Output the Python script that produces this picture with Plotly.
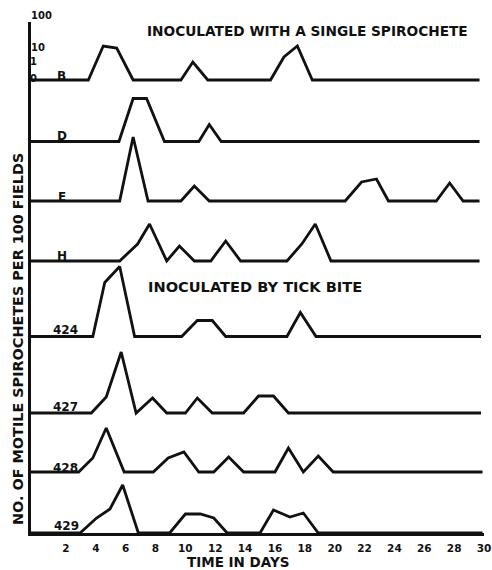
import plotly.graph_objects as go

# ---- data: (day, height); heights in relative chart units ----
series_names = ["B", "D", "E", "H", "424", "427", "428", "429"]

B_days = [3.5, 4.5, 5.4, 6.5, 9.7, 10.5, 11.5, 15.7, 16.6, 17.5, 18.5, 29.7]
B_vals = [0, 34, 32, 0, 0, 18, 0, 0, 23, 34, 0, 0]

D_days = [5.55, 6.5, 7.4, 8.6, 10.9, 11.6, 12.4, 29.7]
D_vals = [0, 43, 43, 0, 0, 17, 0, 0]

E_days = [5.6, 6.5, 7.5, 9.7, 10.6, 11.6, 20.7, 21.8, 22.8, 23.6, 26.8, 27.7, 28.6, 29.7]
E_vals = [0, 64, 0, 0, 15, 0, 0, 19, 22, 0, 0, 18, 0, 0]

H_days = [5.6, 6.8, 7.6, 8.75, 9.6, 10.6, 11.7, 12.7, 13.7, 16.8, 17.8, 18.7, 19.75, 29.7]
H_vals = [0, 17, 37, 0, 15, 0, 0, 20, 0, 0, 17, 37, 0, 0]

T424_days = [3.8, 4.6, 5.6, 6.6, 9.75, 10.8, 11.8, 12.7, 16.8, 17.7, 18.75, 29.8]
T424_vals = [0, 54, 70, 0, 0, 16, 16, 0, 0, 24, 0, 0]

T427_days = [3.7, 4.7, 5.7, 6.7, 7.8, 8.75, 10.0, 10.8, 11.8, 13.9, 14.9, 15.9, 16.9, 29.8]
T427_vals = [0, 16, 61, 0, 15, 0, 0, 15, 0, 0, 17, 17, 0, 0]

T428_days = [2.85, 3.8, 4.7, 5.9, 7.85, 8.85, 9.9, 10.9, 11.9, 12.9, 13.9, 16.0, 16.9, 17.9, 18.9, 19.9, 29.9]
T428_vals = [0, 14, 44, 0, 0, 14, 20, 0, 0, 15, 0, 0, 24, 0, 16, 0, 0]

T429_days = [2.95, 4.05, 4.95, 5.8, 6.85, 8.95, 10.0, 11.0, 11.9, 12.8, 15.0, 15.9, 17.0, 17.9, 18.9, 29.9]
T429_vals = [0, 15, 24, 48, 0, 0, 19, 19, 15, 0, 0, 23, 16, 20, 0, 0]

x_ticks = list(range(2, 31, 2))
scale_labels = ["100", "10", "1", "0"]

# ---- layout helpers (pixel geometry of the figure) ----
W, H = 492, 570
PL, PR, PT, PB = 31, 484, 22, 533          # plot area in px
X0, X1 = -0.34, 30.0                        # day range
YSPAN = PB - PT                              # y units == px

def xp(px):
    return (px - PL) / (PR - PL)

def yp(py):
    return (PB - py) / (PB - PT)

def yd(py):
    return PB - py

baselines_px = {"B": 80, "D": 141.5, "E": 201, "H": 261, "424": 336.5,
                "427": 413, "428": 472, "429": 533}
label_pos_px = {"B": (61, 76), "D": (62, 136), "E": (62, 197), "H": (62, 255.5),
                "424": (65.5, 330), "427": (65.5, 406.5), "428": (65.5, 467.5),
                "429": (66.5, 526)}

data = {"B": (B_days, B_vals), "D": (D_days, D_vals), "E": (E_days, E_vals),
        "H": (H_days, H_vals), "424": (T424_days, T424_vals),
        "427": (T427_days, T427_vals), "428": (T428_days, T428_vals),
        "429": (T429_days, T429_vals)}

INK = "#111111"
FONT = "DejaVu Sans"

fig = go.Figure()
for name in series_names:
    days, vals = data[name]
    base = yd(baselines_px[name])
    xs = [X0] + days
    ys = [base] + [base + v for v in vals]
    fig.add_trace(go.Scatter(x=xs, y=ys, mode="lines", name=name,
                             line=dict(color=INK, width=2.8),
                             hoverinfo="skip", showlegend=False, cliponaxis=False))

def ann(text, px, py, size, **kw):
    return dict(x=xp(px), y=yp(py), xref="paper", yref="paper", text=text,
                showarrow=False, xanchor="center", yanchor="middle", borderpad=0,
                font=dict(family=FONT, size=size, color=INK, weight="bold"), **kw)

annotations = []
for name in series_names:
    px, py = label_pos_px[name]
    annotations.append(ann(name, px, py, 12))

scale_pos_px = [(41, 15.5), (37.5, 47), (33, 61), (33, 78)]
for lab, (px, py) in zip(scale_labels, scale_pos_px):
    annotations.append(ann(lab, px, py, 10))

titles = [("INOCULATED WITH A SINGLE SPIROCHETE", 307, 31, 13.7),
          ("INOCULATED BY TICK BITE", 254.5, 286, 14.6),
          ("TIME IN DAYS", 237.5, 562, 13.5)]
for txt, px, py, sz in titles:
    annotations.append(ann(txt, px, py, sz))

annotations.append(ann("NO. OF MOTILE SPIROCHETES PER 100 FIELDS", 18, 339, 14.4,
                       textangle=-90))

fig.update_layout(
    width=W, height=H,
    margin=dict(l=PL, r=W - PR, t=PT, b=H - PB, pad=0, autoexpand=False),
    paper_bgcolor="white", plot_bgcolor="white",
    showlegend=False,
    annotations=annotations,
    xaxis=dict(range=[X0, X1], showgrid=False, zeroline=False, automargin=False,
               showline=True, linecolor=INK, linewidth=2.8,
               tickmode="array", tickvals=x_ticks, ticktext=[str(t) for t in x_ticks],
               ticks="", ticklabelstandoff=3,
               tickfont=dict(family=FONT, size=10.5, color=INK, weight="bold")),
    yaxis=dict(range=[0, YSPAN], showgrid=False, zeroline=False, automargin=False,
               showline=True, linecolor=INK, linewidth=2.8,
               showticklabels=False, ticks=""),
)

fig.write_html("out.html", config={"displayModeBar": False},
               post_script="document.body.style.margin='0';document.body.style.padding='0';")
